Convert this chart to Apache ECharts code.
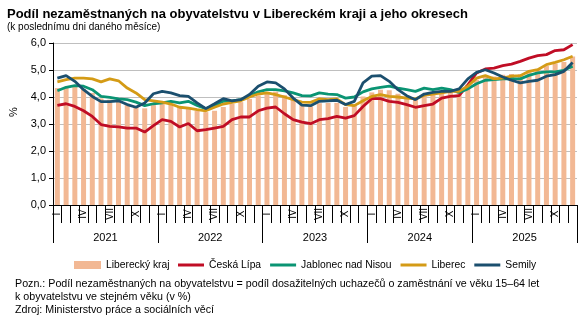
<!DOCTYPE html>
<html>
<head>
<meta charset="utf-8">
<script src="https://cdn.jsdelivr.net/npm/echarts@6/dist/echarts.min.js"></script>
<style>
html,body{margin:0;padding:0;background:#fff;}
#c{width:586px;height:322px;}
</style>
</head>
<body>
<div id="c"></div>
<script>
const years = ['2021','2022','2023','2024','2025'];
const monthNames = ['I','II','III','IV','V','VI','VII','VIII','IX','X','XI','XII'];
const yTicks = [0,1,2,3,4,5,6];

const liberecky = [
  4.33,4.35,4.40,4.30,4.15,3.95,3.90,3.85,3.75,3.65,3.58,3.70,
  3.75,3.75,3.65,3.60,3.49,3.44,3.49,3.63,3.75,3.81,3.93,4.05,
  4.19,4.20,4.07,3.94,3.72,3.65,3.77,3.78,3.78,3.63,3.72,4.02,
  4.17,4.27,4.25,4.12,4.02,3.96,4.02,4.07,4.15,4.20,4.20,4.46,
  4.64,4.80,4.76,4.82,4.85,4.84,4.93,5.02,5.15,5.24,5.30,5.50
];
const ceskaLipa = [
  3.69,3.75,3.65,3.49,3.28,2.98,2.91,2.89,2.85,2.85,2.70,2.94,
  3.16,3.10,2.89,3.02,2.75,2.79,2.85,2.91,3.16,3.26,3.26,3.49,
  3.59,3.63,3.38,3.16,3.07,3.01,3.16,3.20,3.28,3.22,3.31,3.65,
  3.94,3.94,3.84,3.80,3.72,3.62,3.68,3.74,3.96,4.02,4.05,4.45,
  4.89,5.04,5.07,5.16,5.22,5.32,5.44,5.53,5.57,5.72,5.75,5.94
];
const jablonec = [
  4.23,4.36,4.42,4.40,4.27,4.02,3.99,3.93,3.90,3.81,3.68,3.75,
  3.78,3.84,3.78,3.84,3.69,3.57,3.69,3.84,3.86,3.90,4.05,4.19,
  4.27,4.27,4.23,4.15,4.05,4.04,4.15,4.11,4.09,3.96,4.00,4.19,
  4.30,4.36,4.40,4.33,4.27,4.21,4.33,4.27,4.33,4.27,4.17,4.30,
  4.49,4.62,4.64,4.67,4.68,4.67,4.80,4.89,4.93,4.93,4.99,5.14
];
const liberec = [
  4.56,4.64,4.70,4.70,4.67,4.56,4.67,4.60,4.33,4.15,3.90,3.86,
  3.81,3.74,3.62,3.59,3.53,3.49,3.62,3.74,3.80,3.86,4.00,4.11,
  4.15,4.09,4.00,3.90,3.81,3.80,3.93,3.90,3.93,3.72,3.68,3.86,
  4.02,4.09,4.02,4.00,3.96,3.93,4.06,4.11,4.15,4.21,4.21,4.40,
  4.70,4.79,4.67,4.70,4.77,4.79,4.95,5.01,5.20,5.28,5.38,5.51
];
const semily = [
  4.70,4.79,4.58,4.27,4.02,3.83,3.83,3.86,3.72,3.62,3.78,4.12,
  4.21,4.15,4.05,4.02,3.78,3.57,3.75,3.94,3.86,3.90,4.09,4.40,
  4.56,4.52,4.30,3.96,3.70,3.68,3.84,3.86,3.88,3.72,3.84,4.52,
  4.77,4.79,4.58,4.27,4.05,3.90,4.11,4.17,4.21,4.21,4.30,4.67,
  4.91,5.01,4.89,4.74,4.62,4.52,4.58,4.62,4.77,4.83,4.95,5.28
];

const months = [];
years.forEach(() => monthNames.forEach(m => months.push(m)));

const FONT = '"Liberation Sans", Arial, sans-serif';
const chart = echarts.init(document.getElementById('c'), null, {renderer: 'canvas'});

chart.setOption({
  animation: false,
  textStyle: {fontFamily: FONT, color: '#000'},
  title: [
    {text: 'Podíl nezaměstnaných na obyvatelstvu v Libereckém kraji a jeho okresech', left: 2, top: 3,
     textStyle: {fontFamily: FONT, fontSize: 13, fontWeight: 'bold', color: '#000'}},
    {text: '(k poslednímu dni daného měsíce)', left: 2, top: 17,
     textStyle: {fontFamily: FONT, fontSize: 10, fontWeight: 'normal', color: '#000'}},
    {text: 'Pozn.: Podíl nezaměstnaných na obyvatelstvu = podíl dosažitelných uchazečů o zaměstnání ve věku 15–64 let\nk obyvatelstvu ve stejném věku (v %)\nZdroj: Ministerstvo práce a sociálních věcí',
     left: 10, top: 273,
     textStyle: {fontFamily: FONT, fontSize: 10.7, fontWeight: 'normal', color: '#000', lineHeight: 13}}
  ],
  graphic: [
    {type: 'text', x: 14, y: 112, rotation: Math.PI / 2,
     style: {text: '%', fontFamily: FONT, fontSize: 11, fill: '#000', align: 'center', verticalAlign: 'middle'}}
  ],
  legend: [
    {
      left: 69, top: 255,
      itemWidth: 27, itemHeight: 8, itemGap: 10,
      textStyle: {fontFamily: FONT, fontSize: 10.3, color: '#000'},
      data: [{name: 'Liberecký kraj', icon: 'rect'}]
    },
    {
      left: 173, top: 255,
      itemWidth: 26, itemHeight: 3, itemGap: 9,
      textStyle: {fontFamily: FONT, fontSize: 10.3, color: '#000'},
      data: [
        {name: 'Česká Lípa', icon: 'rect'},
        {name: 'Jablonec nad Nisou', icon: 'rect'},
        {name: 'Liberec', icon: 'rect'},
        {name: 'Semily', icon: 'rect'}
      ]
    }
  ],
  grid: {left: 53, right: 9, top: 43, bottom: 117, containLabel: false},
  xAxis: [
    {
      type: 'category', data: months, position: 'bottom',
      axisLine: {show: true, lineStyle: {color: '#000', width: 1}},
      axisTick: {show: true, interval: 0, length: 18, lineStyle: {color: '#000'}},
      axisLabel: {
        interval: (i) => i % 3 === 0,
        rotate: 90, align: 'center', verticalAlign: 'middle', margin: 9,
        fontSize: 10, color: '#000', fontFamily: FONT
      }
    },
    {
      type: 'category', data: years, position: 'bottom',
      axisLine: {show: false},
      axisTick: {show: true, interval: 0, length: 38, lineStyle: {color: '#000'}},
      axisLabel: {interval: 0, margin: 27, fontSize: 11, color: '#000', fontFamily: FONT}
    }
  ],
  yAxis: {
    type: 'value', min: 0, max: 6, interval: 1,
    axisLine: {show: true, lineStyle: {color: '#000'}},
    axisTick: {show: true, length: 4, lineStyle: {color: '#000'}},
    axisLabel: {formatter: v => v.toFixed(1).replace('.', ','), fontSize: 11, color: '#000', margin: 7, fontFamily: FONT},
    splitLine: {show: true, lineStyle: {color: '#bfbfbf', width: 1}}
  },
  series: [
    {name: 'Liberecký kraj', type: 'bar', data: liberecky, xAxisIndex: 0, barWidth: 5,
     itemStyle: {color: '#F2B894'}},
    {name: 'Česká Lípa', type: 'line', data: ceskaLipa, symbol: 'none',
     lineStyle: {color: '#C00D25', width: 2.8}, itemStyle: {color: '#C00D25'}},
    {name: 'Jablonec nad Nisou', type: 'line', data: jablonec, symbol: 'none',
     lineStyle: {color: '#0A9473', width: 2.8}, itemStyle: {color: '#0A9473'}},
    {name: 'Liberec', type: 'line', data: liberec, symbol: 'none',
     lineStyle: {color: '#D49B16', width: 2.8}, itemStyle: {color: '#D49B16'}},
    {name: 'Semily', type: 'line', data: semily, symbol: 'none',
     lineStyle: {color: '#1B4F6E', width: 2.8}, itemStyle: {color: '#1B4F6E'}}
  ]
});
</script>
</body>
</html>
